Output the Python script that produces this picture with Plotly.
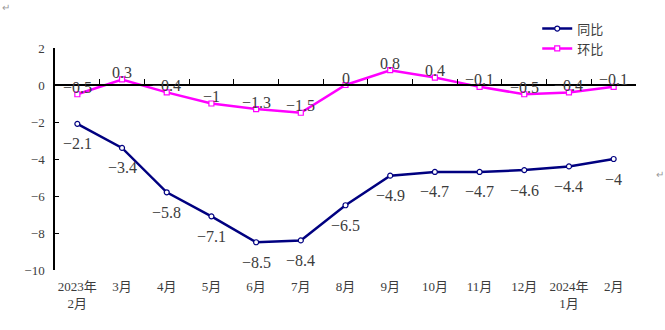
import plotly.graph_objects as go

months = ["2023年<br>2月", "3月", "4月", "5月", "6月", "7月", "8月", "9月",
          "10月", "11月", "12月", "2024年<br>1月", "2月"]
yoy = [-2.1, -3.4, -5.8, -7.1, -8.5, -8.4, -6.5, -4.9, -4.7, -4.7, -4.6, -4.4, -4.0]
mom = [-0.5, 0.3, -0.4, -1.0, -1.3, -1.5, 0.0, 0.8, 0.4, -0.1, -0.5, -0.4, -0.1]
y_ticks = [-10, -8, -6, -4, -2, 0, 2]

FONT = "Liberation Serif, Noto Sans CJK SC, serif"
TXT = "#3c3c3c"

def fmt(v):
    s = ("%g" % v)
    return s.replace("-", "−")

fig = go.Figure()
fig.add_trace(go.Scatter(
    x=months, y=yoy, name="同比", mode="lines+markers",
    line=dict(color="#000080", width=2.5),
    marker=dict(symbol="circle", size=5, color="white",
                line=dict(color="#000080", width=1.2)),
))
fig.add_trace(go.Scatter(
    x=months, y=mom, name="环比", mode="lines+markers",
    line=dict(color="#FF00FF", width=2.5),
    marker=dict(symbol="square", size=5, color="white",
                line=dict(color="#FF00FF", width=1.2)),
))
for m, v in zip(months, yoy):
    fig.add_annotation(x=m, y=v, xref="x", yref="y", text=fmt(v),
                       showarrow=False, yshift=-20,
                       font=dict(family=FONT, size=16, color=TXT))
for m, v in zip(months, mom):
    fig.add_annotation(x=m, y=v, xref="x", yref="y", text=fmt(v),
                       showarrow=False, yshift=7,
                       font=dict(family=FONT, size=16, color=TXT))
# invisible trace registering categories on the zero-line axis
fig.add_trace(go.Scatter(x=months, y=yoy, xaxis="x2", mode="lines",
                         line=dict(width=0), showlegend=False, hoverinfo="skip"))

fig.update_layout(
    width=665, height=330,
    margin=dict(l=55, r=29, t=48, b=60),
    paper_bgcolor="white", plot_bgcolor="white",
    font=dict(family=FONT, size=13, color=TXT),
    showlegend=True,
    legend=dict(x=0.83, y=1.155, xanchor="left", yanchor="top",
                bgcolor="rgba(0,0,0,0)", font=dict(size=13, color=TXT),
                tracegroupgap=0, itemwidth=30),
    xaxis=dict(type="category", categoryorder="array", categoryarray=months,
               range=[-0.5, 12.5], showline=False, ticks="", showgrid=False,
               zeroline=False, tickfont=dict(size=13, color=TXT),
               ticklabelstandoff=7),
    xaxis2=dict(type="category", categoryorder="array", categoryarray=months,
                overlaying="x", anchor="free", position=10 / 12,
                range=[-0.5, 12.5], showline=True, linecolor="black", linewidth=1.5,
                ticks="inside", ticklen=5, tickwidth=1.2, tickcolor="black",
                tickson="boundaries", showticklabels=False, showgrid=False,
                zeroline=False),
    yaxis=dict(range=[-10, 2], tickvals=y_ticks, showline=True, linecolor="black",
               linewidth=1.5, ticks="inside", ticklen=4, tickcolor="black",
               showgrid=False, zeroline=False, tickfont=dict(size=13, color=TXT),
               ticklabelstandoff=6),
)
fig.add_annotation(x=0, y=1, xref="paper", yref="paper", xanchor="left",
                   yanchor="top", xshift=-55, yshift=48, text="↵", showarrow=False,
                   font=dict(size=10, color="#999999"))
fig.add_annotation(x=1, y=0.43, xref="paper", yref="paper", xanchor="left",
                   text="↵", showarrow=False, xshift=18,
                   font=dict(size=10, color="#999999"))

fig.write_html("out.html")
